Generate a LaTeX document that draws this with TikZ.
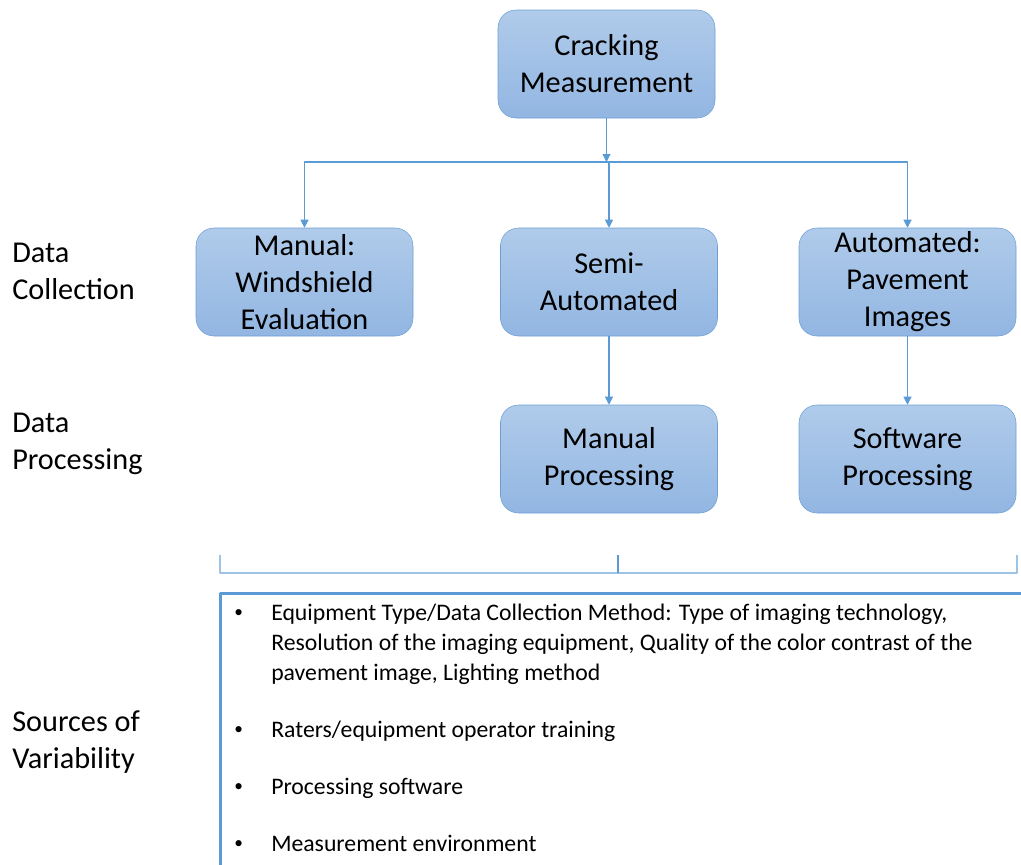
\documentclass[tikz,border=0pt]{standalone}
\usepackage{fontspec}
\setmainfont{Carlito}
\usetikzlibrary{arrows.meta}
\definecolor{boxtop}{HTML}{B0CBEA}
\definecolor{boxbot}{HTML}{92B6E2}
\definecolor{boxline}{HTML}{6D9FD6}
\definecolor{linkblue}{HTML}{5B9BD5}
\definecolor{bracketblue}{HTML}{9DC3E6}
\begin{document}
\begin{tikzpicture}[x=0.75pt, y=-0.75pt, line join=round, >={Triangle[width=6pt,length=6pt]},
	stage/.style={draw=boxline, top color=boxtop, bottom color=boxbot, rounded corners=13.5pt, minimum width=162.75pt, minimum height=81pt, inner sep=0pt, align=center, font=\fontsize{22.7}{27.75}\selectfont},
	tag/.style={anchor=west, inner sep=0pt, align=left, font=\fontsize{22.7}{27.75}\selectfont},
	item/.style={anchor=base west, inner sep=0pt, align=left, font=\fontsize{17.8}{22.5}\selectfont},
	dot/.style={anchor=base west, inner sep=0pt, font=\fontsize{13}{15}\selectfont},
	link/.style={draw=linkblue, line width=0.8pt}]
	\useasboundingbox (0,0) rectangle (1021,864);
	\node[stage] (crack) at (606.5,64) {Cracking\\Measurement};
	\node[stage] (manual) at (304.5,282) {Manual:\\Windshield\\Evaluation};
	\node[stage] (semi) at (609,282) {Semi-\\Automated};
	\node[stage] (auto) at (907.5,282) {Automated:\\Pavement\\Images};
	\node[stage] (manproc) at (609,459) {Manual\\Processing};
	\node[stage] (softproc) at (907.5,459) {Software\\Processing};
	\coordinate (split) at (606.5,162);
	\draw[link,->] (crack) -- (split);
	\draw[link,->] (split) -| (manual);
	\draw[link,->] (split) -| (semi);
	\draw[link,->] (split) -| (auto);
	\draw[link,->] (semi) -- (manproc);
	\draw[link,->] (auto) -- (softproc);
	\node[tag] (collect) at (12,271.5) {Data\\Collection};
	\node[tag] (process) at (12,443.5) {Data\\Processing};
	\node[tag] (sources) at (12,742) {Sources of\\Variability};
	\draw[draw=bracketblue, line width=1.2pt] (220,555) -- (220,573) -- (1017,573) -- (1017,555);
	\draw[link] (618,573) -- (618,555);
	\draw[draw=linkblue, line width=2.25pt] (1030,593.5) -| (220,875);
	\foreach \y/\name in {617/bulA,734/bulB,791/bulC,848/bulD}
		\node[dot] (\name) at (234,\y) {\textbullet};
	\node[item] (itemA) at (271,680) {Equipment Type/Data Collection Method: Type of imaging technology,\\Resolution of the imaging equipment, Quality of the color contrast of the\\pavement image, Lighting method};
	\node[item] (itemB) at (271,737) {Raters/equipment operator training};
	\node[item] (itemC) at (271,794) {Processing software};
	\node[item] (itemD) at (271,851) {Measurement environment};
\end{tikzpicture}
\end{document}
